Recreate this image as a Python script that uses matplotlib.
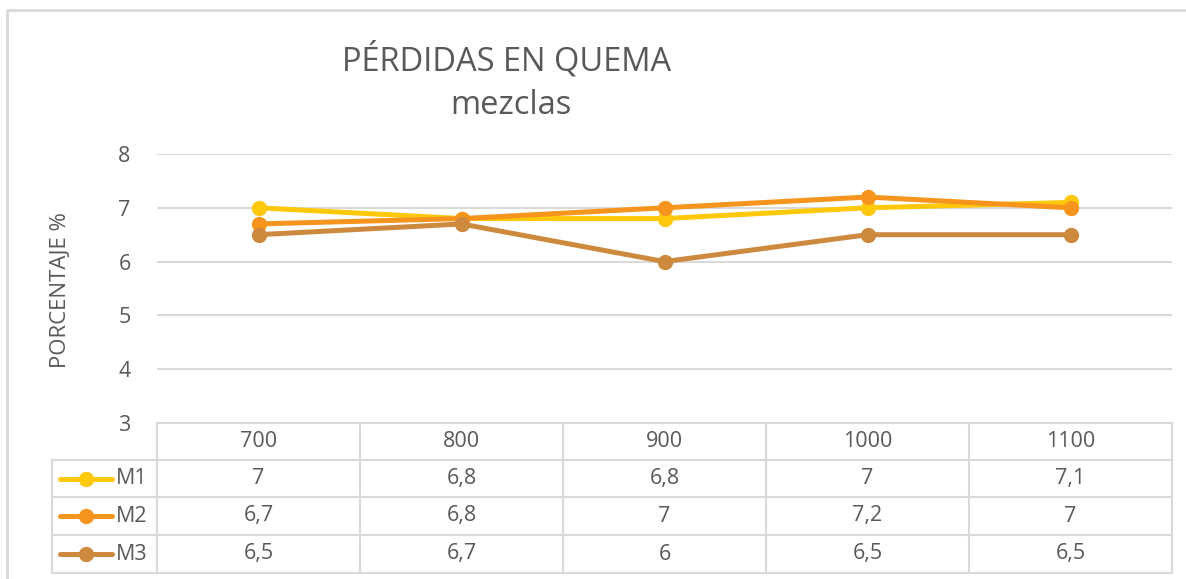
import matplotlib
matplotlib.use("Agg")
import matplotlib.pyplot as plt

# data
categories = ["700", "800", "900", "1000", "1100"]
series_names = ["M1", "M2", "M3"]
m1 = [7, 6.8, 6.8, 7, 7.1]
m2 = [6.7, 6.8, 7, 7.2, 7]
m3 = [6.5, 6.7, 6, 6.5, 6.5]
series_values = [m1, m2, m3]
series_colors = ["#FFC80A", "#F7941D", "#CD8A3E"]
y_ticks = [3, 4, 5, 6, 7, 8]

W, H = 1186, 579
TEXT = "#595959"
GRID = "#d9d9d9"
plt.rcParams['font.family'] = ['Open Sans', 'DejaVu Sans']

fig = plt.figure(figsize=(W / 100, H / 100), dpi=100)

# overlay in pixel coordinates for border, title and data table
over = fig.add_axes([0, 0, 1, 1])
over.set_xlim(0, W)
over.set_ylim(H, 0)
over.axis("off")

# main plot area
left, right, top, bottom = 157, 1172, 154, 423
ax = fig.add_axes([left / W, 1 - bottom / H, (right - left) / W, (bottom - top) / H])
x = list(range(len(categories)))
for name, vals, col in zip(series_names, series_values, series_colors):
    ax.plot(x, vals, color=col, lw=3.6, marker="o", ms=10, solid_capstyle="round", zorder=3)
ax.set_xlim(-0.5, len(categories) - 0.5)
ax.set_ylim(y_ticks[0], y_ticks[-1])
ax.set_yticks(y_ticks)
ax.set_yticklabels([str(t) for t in y_ticks], fontsize=15.5, color=TEXT)
ax.tick_params(axis="y", length=0, pad=19)
ax.set_xticks([])
for s in ax.spines.values():
    s.set_visible(False)
ax.grid(axis="y", color=GRID, lw=1.5)
ax.set_axisbelow(True)
ax.patch.set_alpha(0)

# chart border
over.plot([6.5, 6.5, W + 5], [H + 5, 9.5, 9.5], color=GRID, lw=2, clip_on=False)

# title and axis label
over.text(507, 60, "PÉRDIDAS EN QUEMA", ha="center", va="center", fontsize=23.5, color=TEXT)
over.text(511, 105, "mezclas", ha="center", va="center", fontsize=23.5, color=TEXT)
over.text(60, 290, "PORCENTAJE %", ha="center", va="center", rotation=90, fontsize=16, color=TEXT)

# data table
col_w = (right - left) / len(categories)
row_top = [423, 460, 497, 535, 573]
col_edges = [left + i * col_w for i in range(len(categories) + 1)]
over.plot([left, right], [row_top[0], row_top[0]], color=GRID, lw=1.5)
for yy in row_top[1:]:
    over.plot([52, right], [yy, yy], color=GRID, lw=1.5)
for xx in col_edges:
    over.plot([xx, xx], [row_top[0], row_top[-1]], color=GRID, lw=1.5)
over.plot([52, 52], [row_top[1], row_top[-1]], color=GRID, lw=1.5)

for i, c in enumerate(categories):
    cx = left + (i + 0.5) * col_w
    over.text(cx, (row_top[0] + row_top[1]) / 2, c, ha="center", va="center", fontsize=15.5, color=TEXT)

for r, (name, vals, col) in enumerate(zip(series_names, series_values, series_colors)):
    cy = (row_top[r + 1] + row_top[r + 2]) / 2
    over.plot([60, 112], [cy, cy], color=col, lw=3.6, solid_capstyle="round")
    over.plot([86], [cy], color=col, marker="o", ms=10, ls="none")
    over.text(116, cy, name, ha="left", va="center", fontsize=15.5, color=TEXT)
    for i, v in enumerate(vals):
        cx = left + (i + 0.5) * col_w
        label = ("%g" % v).replace(".", ",")
        over.text(cx, cy, label, ha="center", va="center", fontsize=15.5, color=TEXT)

fig.savefig("out.png", dpi=100)
